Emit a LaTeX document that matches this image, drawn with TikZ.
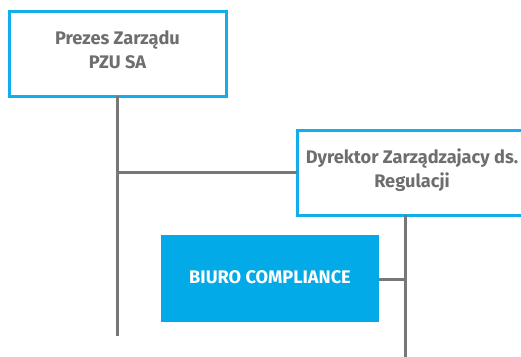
\documentclass[tikz,border=0pt]{standalone}
\usepackage{fontspec}
\setmainfont{Fira Sans}
\definecolor{pzublue}{HTML}{12AEEB}
\definecolor{pzufill}{HTML}{02AAE7}
\definecolor{txtgray}{HTML}{6E6E6E}
\definecolor{lngray}{HTML}{777777}
\begin{document}
\begin{tikzpicture}[x=1pt,y=-1pt,
  outlinebox/.style={draw=pzublue,line width=3pt,fill=white,inner sep=0pt},
  fillbox/.style={fill=pzufill,inner sep=0pt},
  boxtext/.style={font=\fontsize{18.2}{24}\selectfont\bfseries,text=txtgray,align=center},
  conn/.style={draw=lngray,line width=3pt}]
\useasboundingbox (0,0) rectangle (521,356);
\clip (0,0) rectangle (521,356);
% boxes
\path[outlinebox] (9,11) rectangle (226,96);
\node[boxtext] (ceo) at (117.5,50) {Prezes Zarządu\\PZU SA};
\coordinate (ceob) at (117,96);
\coordinate (ceoend) at (117,336);
\coordinate (ceomid) at (117,172);
\path[outlinebox] (297,130) rectangle (560,215);
\node[boxtext] (dir) at (412,170) {Dyrektor Zarządzajacy ds.\\Regulacji};
\coordinate (dirl) at (297,172);
\coordinate (dirb) at (405,215);
\coordinate (dirend) at (405,360);
\coordinate (dirmid) at (405,279);
\path[fillbox] (161,235) rectangle (379,322);
\node[font=\fontsize{18.2}{24}\selectfont\bfseries,text=white] (biuro) at (270,277) {BIURO COMPLIANCE};
\coordinate (biuror) at (379,279);
% connectors
\draw[conn] (ceob) -- (ceoend);
\draw[conn] (ceomid) -- (dirl);
\draw[conn] (dirb) -- (dirend);
\draw[conn] (biuror) -- (dirmid);
\end{tikzpicture}
\end{document}
